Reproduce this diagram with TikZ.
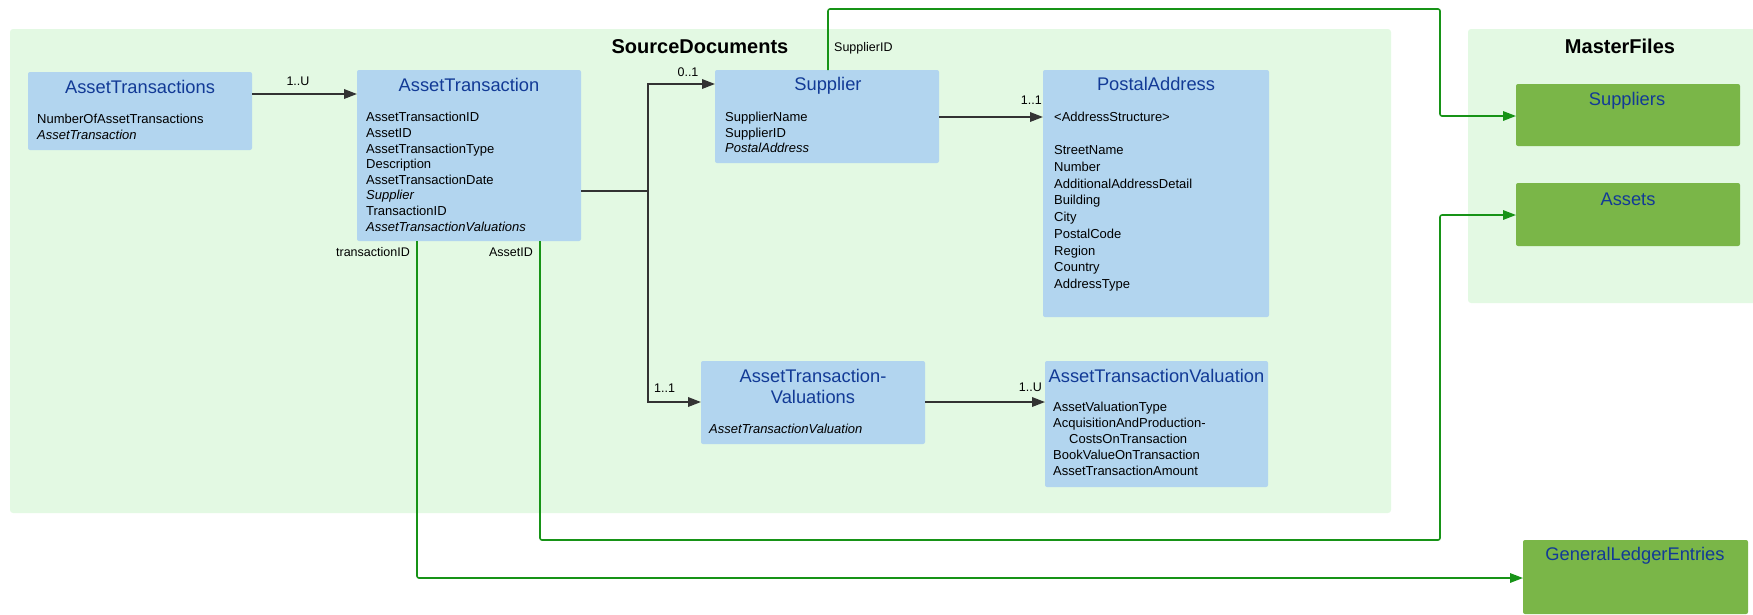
\documentclass[tikz,border=0pt]{standalone}
\usepackage{fontspec}
\setmainfont{Liberation Sans}
\usetikzlibrary{arrows.meta,calc}

\definecolor{groupbg}{HTML}{E3F9E3}
\definecolor{entblue}{HTML}{B2D5EF}
\definecolor{masterbox}{HTML}{7AB648}
\definecolor{titleblue}{HTML}{123A96}
\definecolor{linkgreen}{HTML}{179317}
\definecolor{linkgray}{HTML}{333333}

% first-line strut so that a north-anchored body puts its first baseline 10pt below the top
\newcommand\bodystrut{\rule{0pt}{10pt}}
\newcommand\titlestrut{\rule{0pt}{14pt}}

\begin{document}
\begin{tikzpicture}[x=1pt,y=-1pt,
  group/.style={fill=groupbg, draw=none, rounded corners=3pt, inner sep=0, outer sep=0},
  entity/.style={fill=entblue, draw=none, rounded corners=2pt, inner sep=0, outer sep=0},
  master/.style={fill=masterbox, draw=none, rounded corners=2pt, inner sep=0, outer sep=0},
  grptitle/.style={font=\bfseries\fontsize{20}{24}\selectfont, inner sep=0},
  ttl/.style={font=\fontsize{18.3}{21}\selectfont, text=titleblue, inner sep=0},
  body/.style={font=\fontsize{13}{16}\selectfont, align=left, inner sep=0, anchor=north west},
  lbl/.style={font=\fontsize{12.5}{15}\selectfont, inner sep=0},
  conn/.style={draw=linkgray, line width=1.8pt, -{Triangle[length=13pt,width=9.5pt]}},
  gconn/.style={draw=linkgreen, line width=1.6pt, rounded corners=2pt, -{Triangle[length=13pt,width=9.5pt]}}
]
\useasboundingbox (0,0) rectangle (1753,614);

% ---- containers ----
\node[group, minimum width=1381pt, minimum height=484pt] (srcdocs) at (700.5,271) {};
\node[grptitle, anchor=base] (srcdocs-t) at (700,53.3) {SourceDocuments};
\node[group, minimum width=290pt, minimum height=274pt] (mfiles) at (1613,166) {};
\node[grptitle, anchor=base] (mfiles-t) at (1620,53.3) {MasterFiles};

% ---- AssetTransactions ----
\node[entity, minimum width=224pt, minimum height=78pt] (ats) at (140,111) {};
\node[ttl, anchor=base] (ats-t) at (140,93.5) {AssetTransactions};
\node[body] (ats-b) at (37,113.3) {\bodystrut NumberOfAssetTransactions\\\textit{AssetTransaction}};

% ---- AssetTransaction ----
\node[entity, minimum width=224pt, minimum height=171pt] (at) at (469,155.5) {};
\node[ttl, anchor=base] (at-t) at (469,91.7) {AssetTransaction};
\node[body, font=\fontsize{13}{15.6}\selectfont] (at-b) at (366,111.7) {\bodystrut AssetTransactionID\\AssetID\\AssetTransactionType\\Description\\AssetTransactionDate\\\textit{Supplier}\\TransactionID\\\textit{AssetTransactionValuations}};

% ---- Supplier ----
\node[entity, minimum width=224pt, minimum height=93pt] (sup) at (827,116.5) {};
\node[ttl, anchor=base] (sup-t) at (828,90.5) {Supplier};
\node[body, font=\fontsize{13}{15.8}\selectfont] (sup-b) at (725,111) {\bodystrut SupplierName\\SupplierID\\\textit{PostalAddress}};

% ---- PostalAddress ----
\node[entity, minimum width=226pt, minimum height=247pt] (pa) at (1156,193.5) {};
\node[ttl, anchor=base] (pa-t) at (1156,90.5) {PostalAddress};
\node[body, font=\fontsize{13}{16.75}\selectfont] (pa-b) at (1054,111) {\bodystrut <AddressStructure>\\\mbox{}\\StreetName\\Number\\AdditionalAddressDetail\\Building\\City\\PostalCode\\Region\\Country\\AddressType};

% ---- AssetTransaction-Valuations ----
\node[entity, minimum width=224pt, minimum height=83pt] (atvs) at (813,402.5) {};
\node[ttl, align=center, anchor=north, font=\fontsize{18.3}{21}\selectfont] (atvs-t) at (813,368.3) {\titlestrut AssetTransaction-\\Valuations};
\node[body] (atvs-b) at (709,423.3) {\bodystrut\textit{AssetTransactionValuation}};

% ---- AssetTransactionValuation ----
\node[entity, minimum width=223pt, minimum height=126pt] (atv) at (1156.5,424) {};
\node[ttl, anchor=base] (atv-t) at (1156.5,382.3) {AssetTransactionValuation};
\node[body, font=\fontsize{13}{15.9}\selectfont] (atv-b) at (1053,401.7) {\bodystrut AssetValuationType\\AcquisitionAndProduction-\\\hspace*{16pt}CostsOnTransaction\\BookValueOnTransaction\\AssetTransactionAmount};

% ---- master file targets ----
\node[master, minimum width=224pt, minimum height=62pt] (sups) at (1628,115) {};
\node[ttl, anchor=base] (sups-t) at (1627,105.5) {Suppliers};
\node[master, minimum width=224pt, minimum height=63pt] (assets) at (1628,214.5) {};
\node[ttl, anchor=base] (assets-t) at (1628,205) {Assets};
\node[master, minimum width=225pt, minimum height=74pt] (gle) at (1635.5,577) {};
\node[ttl, anchor=base] (gle-t) at (1635,560.7) {GeneralLedgerEntries};

% ---- containment connectors ----
\draw[conn] ($(ats.north east)+(0,22)$) -- ($(at.north west)+(0,24)$);
\draw[conn] ($(at.north east)+(0,121)$) -- ++(67,0) coordinate (fork) |- ($(sup.north west)+(0,14)$);
\draw[conn] (fork) |- ($(atvs.north west)+(0,41)$);
\draw[conn] ($(sup.north east)+(0,47)$) -- ($(pa.north west)+(0,47)$);
\draw[conn] ($(atvs.north east)+(0,41)$) -- ($(atv.north west)+(0,41)$);

\node[lbl, anchor=base] (l-atu) at (298,85) {1..U};
\node[lbl, anchor=base] (l-sup) at (688,76) {0..1};
\node[lbl, anchor=base east] (l-pa) at (1042,104.3) {1..1};
\node[lbl, anchor=base west] (l-atvs) at (654,392) {1..1};
\node[lbl, anchor=base east] (l-atv) at (1042,391) {1..U};

% ---- key references to master files ----
\coordinate (busTop) at (1440,9);
\coordinate (busMid) at (1440,540);
\draw[gconn] ($(sup.north west)+(113,0)$) |- (busTop) |- ($(sups.north west)+(0,32)$);
\draw[gconn] ($(at.south west)+(183,0)$) |- (busMid) |- ($(assets.north west)+(0,32)$);
\draw[gconn] ($(at.south west)+(60,0)$) |- ($(gle.north west)+(0,38)$);

\node[lbl, anchor=base west] (l-supid) at (834,51.7) {SupplierID};
\node[lbl, anchor=base east] (l-trid) at (410,256) {transactionID};
\node[lbl, anchor=base east] (l-assid) at (533,256) {AssetID};
\end{tikzpicture}
\end{document}
